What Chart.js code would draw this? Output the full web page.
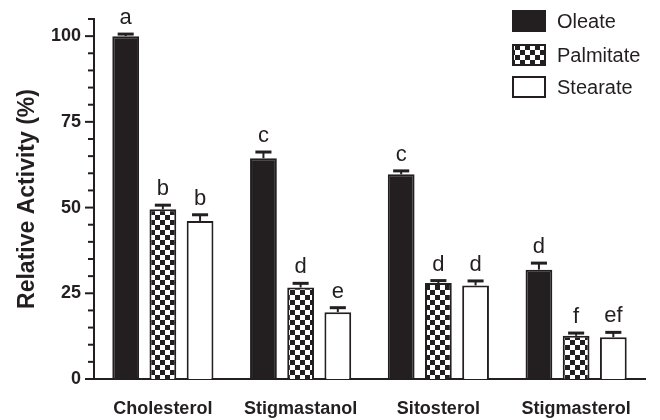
<!DOCTYPE html>
<html>
<head>
<meta charset="utf-8">
<script src="https://cdn.jsdelivr.net/npm/chart.js@4.4.1/dist/chart.umd.min.js"></script>
<style>
    html, body { margin: 0; padding: 0; background: #fff; }
    #wrap { width: 660px; height: 420px; }
</style>
</head>
<body>
<div id="wrap"><canvas id="chart"></canvas></div>
<script>
// data
const sterols = ['Cholesterol', 'Stigmastanol', 'Sitosterol', 'Stigmasterol'];
const oleate = [100, 64.4, 59.7, 31.9];
const palmitate = [49.5, 26.7, 28.0, 12.6];
const stearate = [46.1, 19.5, 27.3, 12.2];
const oleateErr = [0.6, 1.8, 1.0, 1.9];
const palmitateErr = [1.2, 1.2, 0.7, 0.8];
const stearateErr = [1.8, 1.3, 1.3, 1.4];
const oleateLetters = ['a', 'c', 'c', 'd'];
const palmitateLetters = ['b', 'd', 'd', 'f'];
const stearateLetters = ['b', 'e', 'd', 'ef'];
const yMajor = [0, 25, 50, 75, 100];

const INK = '#231f20';
const FONT = '"Liberation Sans", Arial, Helvetica, sans-serif';

// checkerboard fill for palmitate
function makeChecker(size) {
    const c = document.createElement('canvas');
    c.width = size * 2;
    c.height = size * 2;
    const g = c.getContext('2d');
    g.fillStyle = '#fff';
    g.fillRect(0, 0, c.width, c.height);
    g.fillStyle = INK;
    g.fillRect(0, 0, size, size);
    g.fillRect(size, size, size, size);
    return g.createPattern(c, 'repeat');
}
const checker = makeChecker(5);

// error bars (upper only) + significance letters
const errorBarPlugin = {
    id: 'errorBars',
    afterDatasetsDraw(chart) {
        const ctx = chart.ctx;
        const y = chart.scales.y;
        chart.data.datasets.forEach((ds, i) => {
            const meta = chart.getDatasetMeta(i);
            meta.data.forEach((bar, j) => {
                const top = y.getPixelForValue(ds.data[j] + ds.errors[j]);
                const capW = bar.width * 0.6;
                ctx.save();
                ctx.strokeStyle = INK;
                ctx.lineWidth = 2;
                ctx.beginPath();
                ctx.moveTo(bar.x, bar.y);
                ctx.lineTo(bar.x, top);
                ctx.stroke();
                ctx.lineWidth = 3;
                ctx.beginPath();
                ctx.moveTo(bar.x - capW / 2, top);
                ctx.lineTo(bar.x + capW / 2, top);
                ctx.stroke();
                ctx.fillStyle = INK;
                ctx.font = '22px ' + FONT;
                ctx.textAlign = 'center';
                ctx.textBaseline = 'alphabetic';
                ctx.fillText(ds.letters[j], bar.x, top - 10);
                ctx.restore();
            });
        });
    }
};

// y ticks: long at labelled values, short in between
const yTickPlugin = {
    id: 'yTicks',
    afterDraw(chart) {
        const ctx = chart.ctx;
        const y = chart.scales.y;
        const x0 = chart.chartArea.left;
        ctx.save();
        ctx.strokeStyle = INK;
        ctx.lineWidth = 2;
        y.ticks.forEach(t => {
            const py = y.getPixelForValue(t.value);
            const len = yMajor.includes(t.value) ? 9 : 6;
            ctx.beginPath();
            ctx.moveTo(x0 - len, py);
            ctx.lineTo(x0, py);
            ctx.stroke();
        });
        ctx.restore();
    }
};

// legend in the top right corner
const legendPlugin = {
    id: 'cornerLegend',
    afterDraw(chart) {
        const ctx = chart.ctx;
        const bx = 512, bw = 34, bh = 22;
        const rows = [10, 44, 76];
        ctx.save();
        chart.data.datasets.forEach((ds, i) => {
            const by = rows[i];
            ctx.fillStyle = ds.backgroundColor;
            ctx.fillRect(bx, by, bw, bh);
            ctx.strokeStyle = INK;
            ctx.lineWidth = 2;
            ctx.strokeRect(bx + 1, by + 1, bw - 2, bh - 2);
            ctx.fillStyle = INK;
            ctx.font = '20px ' + FONT;
            ctx.textAlign = 'left';
            ctx.textBaseline = 'middle';
            ctx.fillText(ds.label, 557, by + bh / 2 + 1);
        });
        ctx.restore();
    }
};

function series(label, data, errors, letters, fill) {
    return {
        label: label,
        data: data,
        errors: errors,
        letters: letters,
        backgroundColor: fill,
        borderColor: INK,
        borderWidth: 2,
        categoryPercentage: 0.81,
        barPercentage: 0.72
    };
}

new Chart(document.getElementById('chart'), {
    type: 'bar',
    data: {
        labels: sterols,
        datasets: [
            series('Oleate', oleate, oleateErr, oleateLetters, INK),
            series('Palmitate', palmitate, palmitateErr, palmitateLetters, checker),
            series('Stearate', stearate, stearateErr, stearateLetters, '#ffffff')
        ]
    },
    options: {
        responsive: true,
        maintainAspectRatio: false,
        animation: false,
        layout: { padding: { top: 19, right: 15, left: 0, bottom: 0 } },
        plugins: {
            legend: { display: false },
            tooltip: { enabled: false }
        },
        scales: {
            x: {
                grid: { display: false, drawTicks: false },
                border: { color: INK, width: 2 },
                ticks: {
                    color: INK,
                    padding: 19,
                    font: { family: FONT, size: 18, weight: 'bold' }
                },
                afterFit: scale => { scale.height = 41; }
            },
            y: {
                min: 0,
                max: 105,
                grid: { display: false, drawTicks: false },
                border: { color: INK, width: 2 },
                ticks: {
                    stepSize: 5,
                    color: INK,
                    padding: 13,
                    autoSkip: false,
                    font: { family: FONT, size: 18, weight: 'bold' },
                    callback: v => yMajor.includes(v) ? v : ''
                },
                title: {
                    display: true,
                    text: 'Relative Activity (%)',
                    color: INK,
                    padding: { top: 14, bottom: 0 },
                    font: { family: FONT, size: 23, weight: 'bold' }
                },
                afterFit: scale => {
                    scale.width = 94;
                    scale.paddingTop = 0;
                    scale.paddingBottom = 0;
                }
            }
        }
    },
    plugins: [errorBarPlugin, yTickPlugin, legendPlugin]
});
</script>
</body>
</html>
